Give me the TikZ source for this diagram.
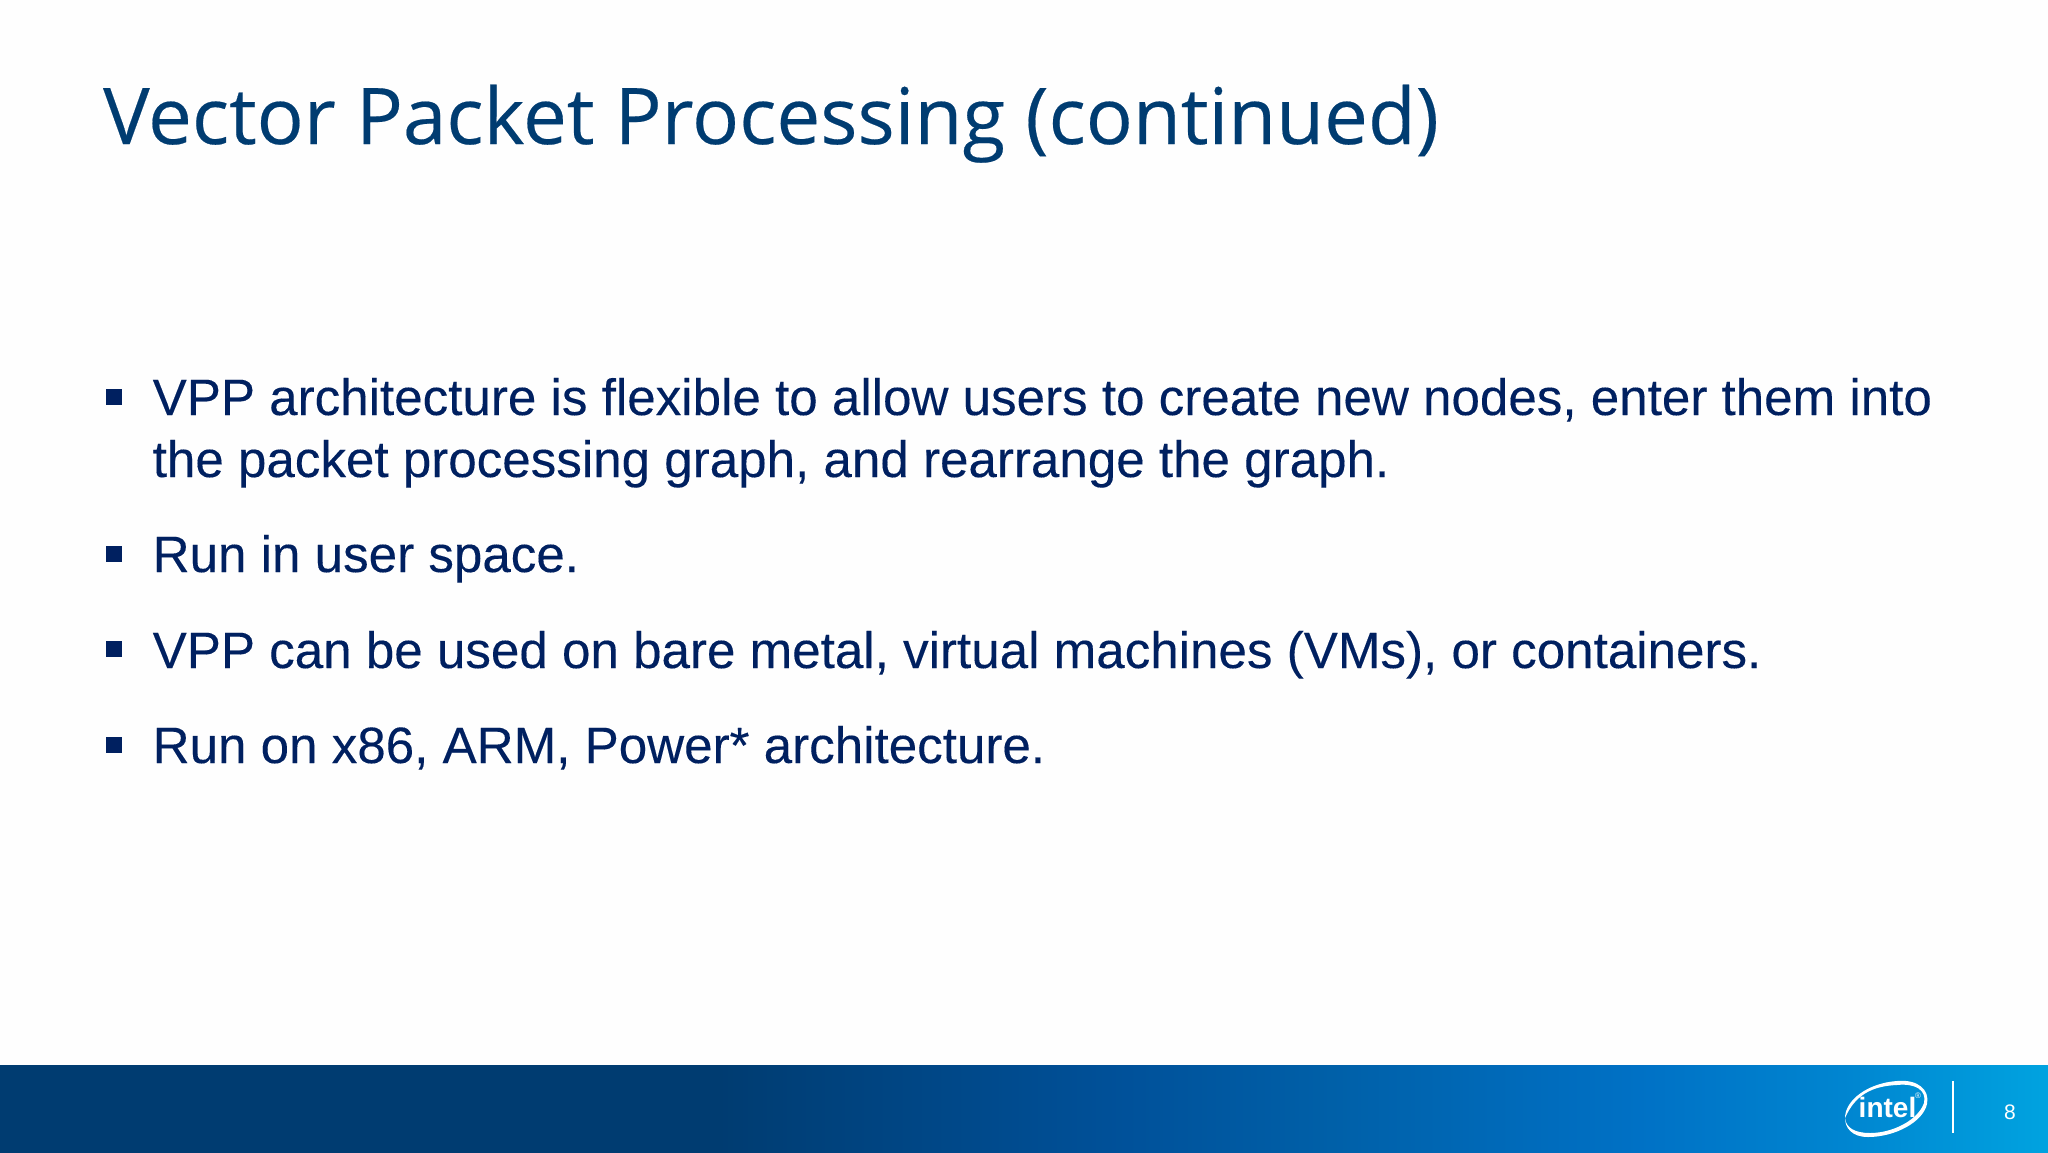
\documentclass[tikz,border=0pt]{standalone}
\usepackage{fontspec}
\setmainfont{Liberation Sans}
\newfontfamily\titlefont{Open Sans}[FakeBold=0.25]
\newfontfamily\bodyfont{Liberation Sans}[FakeBold=0.2]
\definecolor{titleblue}{HTML}{003C71}
\definecolor{bodyblue}{HTML}{002060}
\pgfdeclarehorizontalshading{intelbar}{100bp}{
 rgb(0bp)=(0,0.235,0.443);
 rgb(25bp)=(0,0.235,0.443);
 rgb(42.5bp)=(0,0.235,0.443);
 rgb(52.5bp)=(0,0.318,0.604);
 rgb(57.5bp)=(0,0.376,0.659);
 rgb(65bp)=(0,0.443,0.773);
 rgb(70bp)=(0,0.522,0.816);
 rgb(75bp)=(0,0.639,0.878);
 rgb(100bp)=(0,0.639,0.878)}
\tikzset{
 x=1pt,y=-1pt,
 titletext/.style={anchor=base west,inner sep=0pt,text=titleblue,font=\titlefont\fontsize{78.1}{78}\selectfont},
 bodytext/.style={anchor=base west,inner sep=0pt,text=bodyblue,font=\bodyfont\fontsize{51.14}{62}\selectfont},
 bulletmark/.style={fill=bodyblue,draw=none,inner sep=0pt,minimum size=16pt,anchor=center},
}
\begin{document}
\begin{tikzpicture}
\useasboundingbox (0,0) rectangle (2048,1152);
\fill[white!99.5!black] (0,0) rectangle (2048,1152);
\shade[shading=intelbar] (0,1065) rectangle (2048,1152);
\node[titletext] (title) at (103,144) {Vector Packet Processing (continued)};
\node[bulletmark] (b1) at (114,397) {};
\node[bodytext] (l1a) at (152.5,415) {VPP architecture is flexible to allow users to create new nodes, enter them into};
\node[bodytext] (l1b) at (152.5,477) {the packet processing graph, and rearrange the graph.};
\node[bulletmark] (b2) at (114,554) {};
\node[bodytext] (l2) at (152.5,572) {Run in user space.};
\node[bulletmark] (b3) at (114,649) {};
\node[bodytext] (l3) at (152.5,668) {VPP can be used on bare metal, virtual machines (VMs), or containers.};
\node[bulletmark] (b4) at (114,745) {};
\node[bodytext] (l4) at (152.5,763) {Run on x86, ARM, Power* architecture.};
% logo swoosh
\fill[white] (1845,1118) .. controls (1845,1100) and (1868,1083) .. (1897,1081)
  .. controls (1918,1079) and (1930,1090) .. (1927,1104)
  .. controls (1923,1122) and (1895,1137) .. (1868,1137)
  .. controls (1852,1137) and (1845,1128) .. (1845,1118)
  .. controls (1846,1128) and (1855,1133) .. (1870,1133)
  .. controls (1893,1133) and (1918,1120) .. (1924,1103)
  .. controls (1927,1090) and (1915,1083) .. (1897,1085)
  .. controls (1872,1086) and (1855,1095) .. (1845,1118) -- cycle;
\node[anchor=base,inner sep=0pt,text=white,font=\fontsize{28}{28}\selectfont\bfseries] (intel) at (1887.5,1117) {intel};
\node[anchor=center,inner sep=0pt,text=white,font=\fontsize{8}{8}\selectfont] (regmark) at (1918,1096) {®};
\draw[white,line width=1.6pt] (1953,1081) -- (1953,1133);
\node[anchor=base,inner sep=0pt,text=white,font=\fontsize{21}{21}\selectfont] (pagenum) at (2010,1119) {8};
\end{tikzpicture}
\end{document}
